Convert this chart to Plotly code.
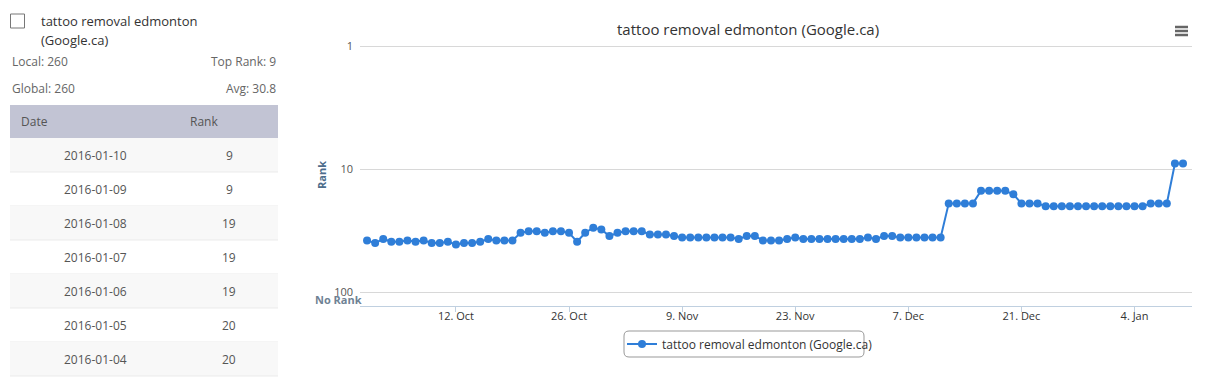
import plotly.graph_objects as go
import pandas as pd

W, H = 1216, 377

# ---------------- data ----------------
series_name = "tattoo removal edmonton (Google.ca)"
start_date = "2015-10-01"
ranks = [
    # Oct 1 - Oct 31
    38, 40, 37, 39, 39, 38, 39, 38, 40, 40,
    39, 41, 40, 40, 39, 37, 38, 38, 38, 33,
    32, 32, 33, 32, 32, 33, 39, 33, 30, 31, 35,
    # Nov 1 - Nov 30
    33, 32, 32, 32, 34, 34, 34, 35, 36, 36,
    36, 36, 36, 36, 36, 37, 35, 35, 38, 38,
    38, 37, 36, 37, 37, 37, 37, 37, 37, 37,
    # Dec 1 - Dec 31
    37, 36, 37, 35, 35, 36, 36, 36, 36, 36,
    36, 19, 19, 19, 19, 15, 15, 15, 15, 16,
    19, 19, 19, 20, 20, 20, 20, 20, 20, 20, 20,
    # Jan 1 - Jan 10
    20, 20, 20, 20, 20, 19, 19, 19, 9, 9,
]
dates = pd.date_range(start_date, periods=len(ranks), freq="D")

x_tick_vals = ["2015-10-12", "2015-10-26", "2015-11-09", "2015-11-23",
               "2015-12-07", "2015-12-21", "2016-01-04"]
x_tick_text = ["12. Oct", "26. Oct", "9. Nov", "23. Nov", "7. Dec", "21. Dec", "4. Jan"]
y_tick_vals = [1, 10, 100]
y_tick_text = ["1", "10", "100"]

local_count = 260
global_count = 260
avg_text = "30.8"
table_rows = 7

FONT = "Open Sans"
BLUE = "#2f7ed8"


def px(x):
    return x / W


def py(y):
    return 1 - y / H


fig = go.Figure()
fig.add_trace(go.Scatter(
    x=dates, y=ranks, mode="lines+markers", name=series_name,
    line=dict(color=BLUE, width=2),
    marker=dict(color=BLUE, size=8),
))

shapes = []
annotations = []


def text(x, y, s, size=12, color="#555", xanchor="left", bold=False, angle=0):
    annotations.append(dict(
        x=px(x), y=py(y), xref="paper", yref="paper", text=("<b>%s</b>" % s) if bold else s,
        showarrow=False, xanchor=xanchor, yanchor="middle", textangle=angle,
        font=dict(family=FONT, size=size, color=color),
    ))


# ------------- left panel -------------
shapes.append(dict(type="rect", xref="paper", yref="paper",
                   x0=px(10.5), x1=px(24.5), y0=py(14), y1=py(28),
                   line=dict(color="#777", width=1), fillcolor="white"))
text(39, 20.5, "tattoo removal edmonton", size=13, color="#333")
text(39, 40, "(Google.ca)", size=13, color="#333")
text(10, 62, "Local: %d" % local_count, size=12, color="#666")
text(278, 62, "Top Rank: %d" % min(ranks), size=12, color="#666", xanchor="right")
text(10, 88, "Global: %d" % global_count, size=12, color="#666")
text(278, 88, "Avg: %s" % avg_text, size=12, color="#666", xanchor="right")

shapes.append(dict(type="rect", xref="paper", yref="paper",
                   x0=px(10), x1=px(278), y0=py(105), y1=py(138),
                   line=dict(width=0), fillcolor="#c2c4d4", layer="below"))
text(19, 121.5, "Date", size=12, color="#555")
text(188, 121.5, "Rank", size=12, color="#555")

for i in range(table_rows):
    idx = len(ranks) - 1 - i
    top = 138 + 34 * i
    if i % 2 == 0:
        shapes.append(dict(type="rect", xref="paper", yref="paper",
                           x0=px(10), x1=px(278), y0=py(top), y1=py(top + 34),
                           line=dict(width=0), fillcolor="#f8f8f8", layer="below"))
    shapes.append(dict(type="line", xref="paper", yref="paper",
                       x0=px(10), x1=px(278), y0=py(top + 34), y1=py(top + 34),
                       line=dict(color="#ebebeb", width=1), layer="below"))
    text(95, top + 17, dates[idx].strftime("%Y-%m-%d"), size=12, color="#555", xanchor="center")
    text(229, top + 17, str(ranks[idx]), size=12, color="#555", xanchor="center")

# ------------- chart decorations -------------
text(748, 29, series_name, size=15, color="#333", xanchor="center")
text(321, 175, "Rank", size=11, color="#4d6d8c", xanchor="center", bold=True, angle=-90)
text(338.5, 299, "No Rank", size=11, color="#6f8294", xanchor="center", bold=True)

for yy in (27, 31, 35):
    shapes.append(dict(type="line", xref="paper", yref="paper",
                       x0=px(1175), x1=px(1188), y0=py(yy), y1=py(yy),
                       line=dict(color="#666", width=2.5)))

# legend box (rounded)
lx0, lx1, ly0, ly1, r = 624, 864, 331, 357, 5
path = (f"M {px(lx0 + r)} {py(ly0)} L {px(lx1 - r)} {py(ly0)} "
        f"Q {px(lx1)} {py(ly0)} {px(lx1)} {py(ly0 + r)} L {px(lx1)} {py(ly1 - r)} "
        f"Q {px(lx1)} {py(ly1)} {px(lx1 - r)} {py(ly1)} L {px(lx0 + r)} {py(ly1)} "
        f"Q {px(lx0)} {py(ly1)} {px(lx0)} {py(ly1 - r)} L {px(lx0)} {py(ly0 + r)} "
        f"Q {px(lx0)} {py(ly0)} {px(lx0 + r)} {py(ly0)} Z")
shapes.append(dict(type="path", xref="paper", yref="paper", path=path,
                   line=dict(color="#999", width=1)))

DECADE = 122.85  # px per decade of rank
fig.update_layout(
    width=W, height=H,
    margin=dict(l=0, r=0, t=0, b=0, autoexpand=False),
    paper_bgcolor="white", plot_bgcolor="white",
    font=dict(family=FONT, size=11, color="#666"),
    showlegend=True,
    legend=dict(
        x=px(622), y=py(344), xanchor="left", yanchor="middle",
        bgcolor="rgba(0,0,0,0)", borderwidth=0,
        font=dict(family=FONT, size=12, color="#333"),
        itemwidth=30,
    ),
    xaxis=dict(
        type="date", domain=[px(360), px(1192)], automargin=False,
        range=["2015-09-30 03:00", "2016-01-11 02:45"],
        tickvals=x_tick_vals, ticktext=x_tick_text,
        showgrid=False, zeroline=False,
        showline=True, linecolor="#c0d0e0", linewidth=1,
        ticks="outside", ticklen=5, tickcolor="#c0d0e0",
        ticklabelstandoff=-5,
        tickfont=dict(family=FONT, size=11, color="#333"),
    ),
    yaxis=dict(
        type="log", domain=[py(306), py(40)], automargin=False,
        range=[(306 - 46.3) / DECADE, -(46.3 - 40) / DECADE],
        tickvals=y_tick_vals, ticktext=y_tick_text,
        showgrid=True, gridcolor="#d8d8d8", gridwidth=1,
        zeroline=False, showline=False,
        ticks="", ticklabelstandoff=6,
        tickfont=dict(family=FONT, size=11, color="#555"),
    ),
    shapes=shapes,
    annotations=annotations,
)

post = ("document.body.style.margin='0';"
        "var d=document.getElementById('{plot_id}');"
        "d.style.position='absolute';d.style.left='0px';d.style.top='0px';")
fig.write_html("out.html", post_script=post, config={"displayModeBar": False})
